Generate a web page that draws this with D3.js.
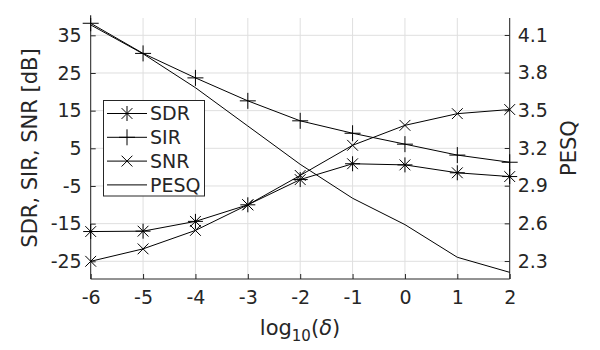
<!DOCTYPE html>
<html>
<head>
<meta charset="utf-8">
<script src="https://cdn.jsdelivr.net/npm/d3@7"></script>
<style>
  body { margin: 0; background: #fff; }
  text { font-family: "DejaVu Sans", sans-serif; fill: #262626; }
  .grid line { stroke: #dfdfdf; stroke-width: 1; }
</style>
</head>
<body>
<div id="chart"></div>
<script>
const logDelta = [-6, -5, -4, -3, -2, -1, 0, 1, 2];
const sdr = [-17.1, -17.0, -14.4, -10.0, -3.3, 0.9, 0.6, -1.5, -2.5];
const sir = [38.2, 30.2, 23.7, 17.6, 12.3, 9.0, 6.1, 3.2, 1.3];
const snr = [-25.0, -21.7, -16.8, -10.0, -2.2, 5.8, 11.1, 14.2, 15.3];
const pesq = [4.18, 3.95, 3.68, 3.375, 3.07, 2.80, 2.59, 2.33, 2.21];
const leftTicks = [-25, -15, -5, 5, 15, 25, 35];
const rightTicks = [2.3, 2.6, 2.9, 3.2, 3.5, 3.8, 4.1];
const xTicks = [-6, -5, -4, -3, -2, -1, 0, 1, 2];

const config = {
  width: 600,
  height: 350,
  left: 90.7,
  right: 509.7,
  top: 18,
  bottom: 279,
  ink: '#262626',
  fontSize: 19
};

const svg = d3.select('#chart').append('svg')
  .attr('width', config.width)
  .attr('height', config.height);

const x = d3.scaleLinear().domain([-6, 2]).range([config.left, config.right]);
const yL = d3.scaleLinear().domain([-29.7, 39.6]).range([config.bottom, config.top]);
const yR = d3.scaleLinear().domain([2.157, 4.235]).range([config.bottom, config.top]);

// grid
const grid = svg.append('g').attr('class', 'grid');
grid.selectAll('.gx').data(xTicks).enter().append('line')
  .attr('x1', d => x(d)).attr('x2', d => x(d))
  .attr('y1', config.top).attr('y2', config.bottom);
grid.selectAll('.gy').data(leftTicks).enter().append('line')
  .attr('x1', config.left).attr('x2', config.right)
  .attr('y1', d => yL(d)).attr('y2', d => yL(d));

// axes (ticks pointing inward, MATLAB style)
const styleAxis = g => {
  g.select('.domain').remove();
  g.selectAll('.tick line').attr('stroke', config.ink);
  g.selectAll('.tick text')
    .style('font-size', config.fontSize + 'px')
    .style('font-family', '"DejaVu Sans", sans-serif')
    .attr('fill', config.ink);
};

svg.append('g')
  .attr('transform', `translate(0,${config.bottom})`)
  .call(d3.axisBottom(x).tickValues(xTicks).tickFormat(d3.format('d'))
    .tickSizeInner(-5).tickSizeOuter(0).tickPadding(12))
  .call(styleAxis);

svg.append('g')
  .attr('transform', `translate(${config.left},0)`)
  .call(d3.axisLeft(yL).tickValues(leftTicks).tickFormat(d3.format('d'))
    .tickSizeInner(-5).tickSizeOuter(0).tickPadding(9))
  .call(styleAxis);

svg.append('g')
  .attr('transform', `translate(${config.right},0)`)
  .call(d3.axisRight(yR).tickValues(rightTicks).tickFormat(d3.format('.1f'))
    .tickSizeInner(-5).tickSizeOuter(0).tickPadding(8))
  .call(styleAxis);

// the minus sign should be a plain hyphen like the reference
svg.selectAll('.tick text').text(function () { return this.textContent.replace('−', '-'); });

// box lines: left, right, bottom
const box = [
  [config.left, config.top, config.left, config.bottom],
  [config.right, config.top, config.right, config.bottom],
  [config.left, config.bottom, config.right, config.bottom]
];
svg.selectAll('.box').data(box).enter().append('line')
  .attr('x1', d => d[0]).attr('y1', d => d[1])
  .attr('x2', d => d[2]).attr('y2', d => d[3])
  .attr('stroke', config.ink).attr('stroke-width', 1);

// markers
const markerPath = (type, s) => {
  const h = s, dgl = s * 0.72;
  const plus = `M${-h},0L${h},0M0,${-h}L0,${h}`;
  const cross = `M${-dgl},${-dgl}L${dgl},${dgl}M${-dgl},${dgl}L${dgl},${-dgl}`;
  if (type === 'plus') return plus;
  if (type === 'cross') return cross;
  if (type === 'star') return plus + cross;
  return '';
};

const series = [
  { name: 'SDR', values: sdr, scale: yL, marker: 'star' },
  { name: 'SIR', values: sir, scale: yL, marker: 'plus' },
  { name: 'SNR', values: snr, scale: yL, marker: 'cross' },
  { name: 'PESQ', values: pesq, scale: yR, marker: 'none' }
];

series.forEach(s => {
  const pts = logDelta.map((d, i) => [d, s.values[i]]);
  const line = d3.line().x(d => x(d[0])).y(d => s.scale(d[1]));
  svg.append('path')
    .datum(pts)
    .attr('d', line)
    .attr('fill', 'none')
    .attr('stroke', '#000')
    .attr('stroke-width', 1);
  if (s.marker !== 'none') {
    svg.selectAll(null).data(pts).enter().append('path')
      .attr('transform', d => `translate(${x(d[0])},${s.scale(d[1])})`)
      .attr('d', markerPath(s.marker, s.marker === 'plus' ? 8 : 7.5))
      .attr('fill', 'none')
      .attr('stroke', '#000')
      .attr('stroke-width', 1);
  }
});

// legend
const legend = svg.append('g');
legend.append('rect')
  .attr('x', 103.5).attr('y', 100.5)
  .attr('width', 101).attr('height', 95.5)
  .attr('fill', '#fff').attr('stroke', config.ink).attr('stroke-width', 1);

series.forEach((s, i) => {
  const ly = 113.5 + i * 23.8;
  legend.append('line')
    .attr('x1', 107).attr('x2', 147)
    .attr('y1', ly).attr('y2', ly)
    .attr('stroke', '#000').attr('stroke-width', 1);
  if (s.marker !== 'none') {
    legend.append('path')
      .attr('transform', `translate(127,${ly})`)
      .attr('d', markerPath(s.marker, s.marker === 'plus' ? 8 : 7.5))
      .attr('fill', 'none').attr('stroke', '#000');
  }
  legend.append('text')
    .attr('x', 150).attr('y', ly)
    .attr('dy', '0.36em')
    .style('font-size', config.fontSize + 'px')
    .text(s.name);
});

// axis labels
svg.append('text')
  .attr('transform', 'translate(37,148) rotate(-90)')
  .attr('text-anchor', 'middle')
  .style('font-size', '21px')
  .text('SDR, SIR, SNR [dB]');

svg.append('text')
  .attr('transform', 'translate(576,148) rotate(-90)')
  .attr('text-anchor', 'middle')
  .style('font-size', '21px')
  .text('PESQ');

const xl = svg.append('text')
  .attr('x', 300).attr('y', 335)
  .attr('text-anchor', 'middle')
  .style('font-size', '21px');
xl.append('tspan').text('log');
xl.append('tspan').attr('dy', 6).style('font-size', '15px').text('10');
xl.append('tspan').attr('dy', -6).text('(');
xl.append('tspan').style('font-style', 'italic').text('δ');
xl.append('tspan').text(')');
</script>
</body>
</html>
